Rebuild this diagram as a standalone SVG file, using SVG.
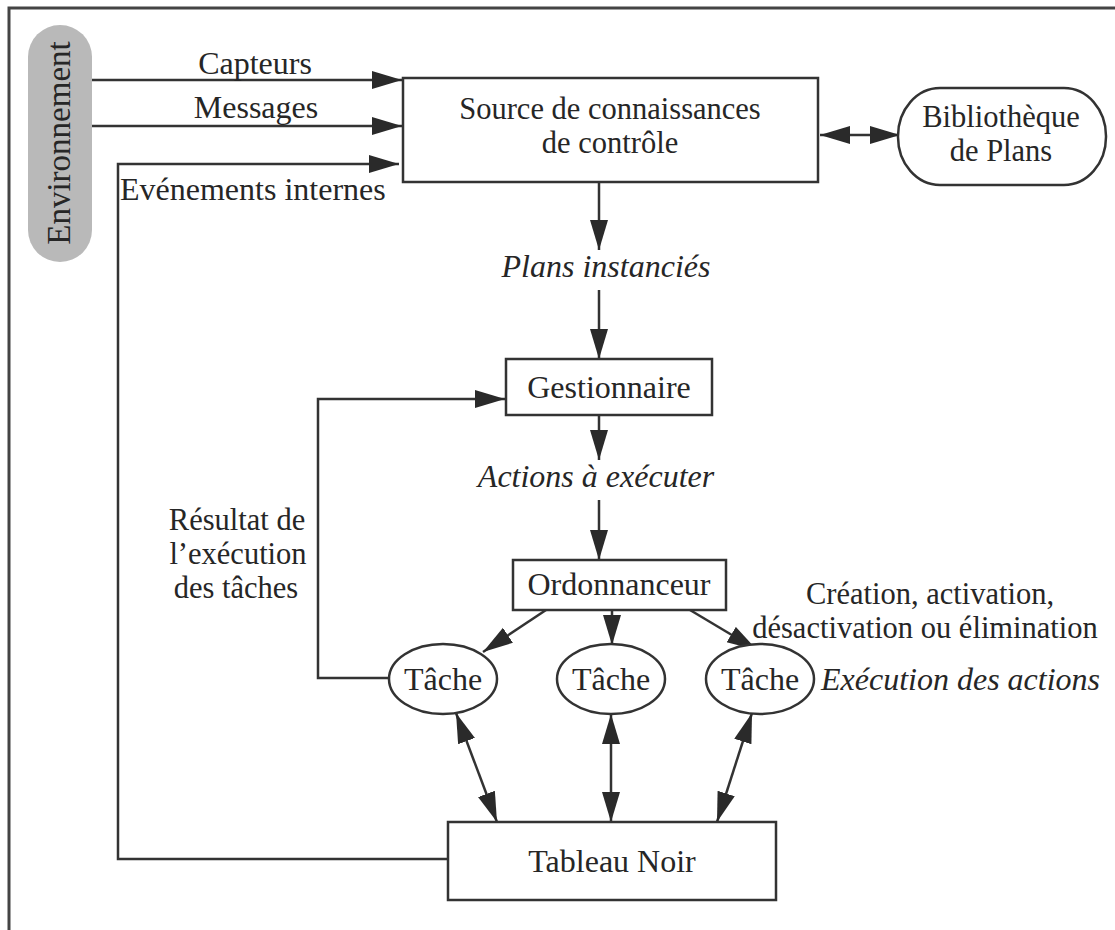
<svg xmlns="http://www.w3.org/2000/svg" width="1115" height="930" viewBox="0 0 1115 930">
<style>
.t{font-family:"Liberation Serif","Times New Roman",serif;font-size:32px;fill:#262626}
.s{font-size:30.5px}
.i{font-style:italic}
.m{text-anchor:middle}
.box{fill:#fff;stroke:#333;stroke-width:2.5}
.ln{fill:none;stroke:#333;stroke-width:2.5}
</style>
<defs>
<marker id="ah" markerUnits="userSpaceOnUse" markerWidth="32" markerHeight="20" refX="30" refY="9" orient="auto-start-reverse">
<path d="M0,0 L30,9 L0,18 z" fill="#2a2a2a"/>
</marker>
</defs>
<rect width="1115" height="930" fill="#fff"/>
<path d="M9,932 V8 H1115" fill="none" stroke="#444" stroke-width="3"/>

<g id="connectors">
<line class="ln" x1="92" y1="80" x2="402" y2="80" marker-end="url(#ah)"/>
<line class="ln" x1="92" y1="126" x2="402" y2="126" marker-end="url(#ah)"/>
<polyline class="ln" points="448,859 118,859 118,164 399,164" marker-end="url(#ah)"/>
<line class="ln" x1="820" y1="135" x2="900" y2="135" marker-start="url(#ah)" marker-end="url(#ah)"/>
<line class="ln" x1="599" y1="182" x2="599" y2="250" marker-end="url(#ah)"/>
<line class="ln" x1="599" y1="290" x2="599" y2="359" marker-end="url(#ah)"/>
<line class="ln" x1="599" y1="415" x2="599" y2="460" marker-end="url(#ah)"/>
<line class="ln" x1="599" y1="500" x2="599" y2="560" marker-end="url(#ah)"/>
<polyline class="ln" points="389,678 318,678 318,399 505,399" marker-end="url(#ah)"/>
<line class="ln" x1="546" y1="610" x2="483" y2="652" marker-end="url(#ah)"/>
<line class="ln" x1="612" y1="610" x2="612" y2="645" marker-end="url(#ah)"/>
<line class="ln" x1="690" y1="610" x2="757" y2="650" marker-end="url(#ah)"/>
<line class="ln" x1="456" y1="713" x2="497" y2="822" marker-start="url(#ah)" marker-end="url(#ah)"/>
<line class="ln" x1="611" y1="714" x2="611" y2="822" marker-start="url(#ah)" marker-end="url(#ah)"/>
<line class="ln" x1="752" y1="713" x2="717" y2="822" marker-start="url(#ah)" marker-end="url(#ah)"/>
</g>

<g id="labels">
<text class="t m" x="255" y="74">Capteurs</text>
<text class="t m" x="256" y="118">Messages</text>
<text class="t" x="120" y="200">Evénements internes</text>
<text class="t i m" x="606" y="277">Plans instanciés</text>
<text class="t i m" x="596" y="487">Actions à exécuter</text>
<text class="t s m" x="237" y="530">Résultat de</text>
<text class="t s m" x="238" y="564">l’exécution</text>
<text class="t s m" x="236" y="598">des tâches</text>
<text class="t s m" x="930" y="604">Création, activation,</text>
<text class="t s m" x="925" y="638">désactivation ou élimination</text>
<text class="t i" x="821" y="690">Exécution des actions</text>
</g>

<g id="environnement">
<rect x="28" y="25" width="64" height="237" rx="32" ry="32" fill="#b9b9b9"/>
<text class="t m" transform="translate(70,143) rotate(-90)" style="font-size:33px">Environnement</text>
</g>

<g id="source">
<rect class="box" x="403" y="78" width="415" height="104"/>
<text class="t s m" x="610" y="119">Source de connaissances</text>
<text class="t s m" x="610" y="153">de contrôle</text>
</g>

<g id="bibliotheque">
<rect class="box" x="898" y="88" width="208" height="97" rx="42" ry="48"/>
<text class="t s m" x="1001" y="127">Bibliothèque</text>
<text class="t s m" x="1001" y="161">de Plans</text>
</g>

<g id="gestionnaire">
<rect class="box" x="506" y="359" width="206" height="56"/>
<text class="t m" x="609" y="398">Gestionnaire</text>
</g>

<g id="ordonnanceur">
<rect class="box" x="513" y="560" width="213" height="50"/>
<text class="t m" x="619" y="595">Ordonnanceur</text>
</g>

<g id="tache1">
<ellipse class="box" cx="443" cy="679" rx="54" ry="35"/>
<text class="t m" x="443" y="690">Tâche</text>
</g>
<g id="tache2">
<ellipse class="box" cx="611" cy="679" rx="54" ry="35"/>
<text class="t m" x="611" y="690">Tâche</text>
</g>
<g id="tache3">
<ellipse class="box" cx="760" cy="679" rx="54" ry="35"/>
<text class="t m" x="760" y="690">Tâche</text>
</g>

<g id="tableau">
<rect class="box" x="448" y="822" width="328" height="78"/>
<text class="t m" x="612" y="872">Tableau Noir</text>
</g>
</svg>
